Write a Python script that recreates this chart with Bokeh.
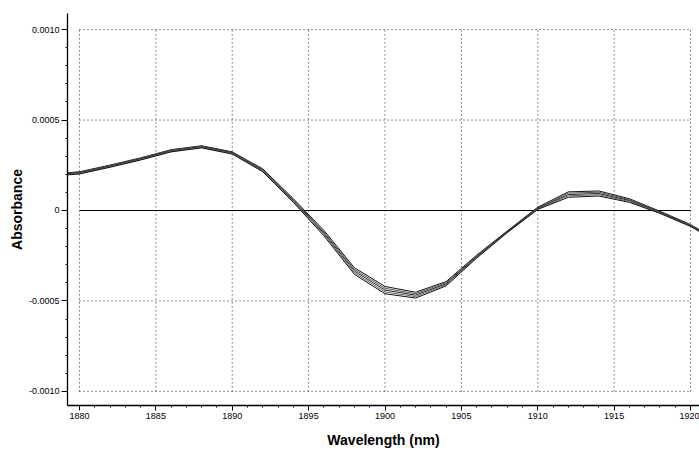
from bokeh.plotting import figure
from bokeh.models import Range1d, FixedTicker
from bokeh.embed import file_html
from bokeh.resources import INLINE

# Data (absorbance spectra, 2 nm steps)
wavelength = [1878, 1880, 1882, 1884, 1886, 1888, 1890, 1892, 1894, 1896, 1898, 1900,
              1902, 1904, 1906, 1908, 1910, 1912, 1914, 1916, 1918, 1920, 1922]
spec1 = [201, 214, 251, 291, 336, 358, 324, 230, 65, -110, -317, -420,
         -452, -393, -247, -113, 18, 103, 108, 65, -4, -78, -175]
spec2 = [198, 211, 248, 288, 333, 355, 321, 226, 60, -118, -326, -430,
         -460, -399, -251, -116, 15, 96, 101, 60, -7, -81, -178]
spec3 = [195, 208, 245, 285, 330, 352, 318, 222, 55, -125, -335, -440,
         -468, -405, -255, -118, 12, 88, 94, 55, -10, -83, -180]
spec4 = [192, 205, 242, 282, 327, 349, 315, 218, 50, -132, -344, -450,
         -476, -411, -259, -121, 9, 81, 87, 50, -13, -86, -182]
spec5 = [189, 202, 239, 279, 324, 346, 312, 214, 45, -140, -353, -460,
         -484, -417, -263, -123, 6, 73, 80, 45, -16, -88, -185]
spectra = [spec1, spec2, spec3, spec4, spec5]
UNIT = 1e-6  # values above are in micro-absorbance units

x_ticks = [1880, 1885, 1890, 1895, 1900, 1905, 1910, 1915, 1920]
y_ticks = [-0.0010, -0.0005, 0.0, 0.0005, 0.0010]
y_tick_labels = ["-0.0010", "-0.0005", "0", "0.0005", "0.0010"]

p = figure(width=699, height=456, output_backend="svg", toolbar_location=None,
           x_range=Range1d(1879.214, 1920.589), y_range=Range1d(-0.001078, 0.001089),
           min_border_left=67, min_border_right=0, min_border_top=13, min_border_bottom=51)
p.outline_line_color = None
p.background_fill_color = "white"
p.xgrid.visible = False
p.ygrid.visible = False

# dotted grid box
x0, x1 = x_ticks[0], x_ticks[-1]
y0, y1 = y_ticks[0], y_ticks[-1]
p.segment(x0=x_ticks, y0=[y0] * len(x_ticks), x1=x_ticks, y1=[y1] * len(x_ticks),
          line_color="#222222", line_width=1, line_dash="1 3")
hy = [v for v in y_ticks if v != 0]
p.segment(x0=[x0] * len(hy), y0=hy, x1=[x1] * len(hy), y1=hy,
          line_color="#222222", line_width=1, line_dash="1 3")
# zero line
p.segment(x0=[x0], y0=[0], x1=[x1], y1=[0], line_color="black", line_width=1.2)

colors = ["#111111", "#555555", "#222222", "#666666", "#111111"]
for s, c in zip(spectra, colors):
    p.line(wavelength, [v * UNIT for v in s], line_color=c, line_width=1.0)

for ax in (p.xaxis[0], p.yaxis[0]):
    ax.axis_line_color = "black"
    ax.axis_line_width = 1.3
    ax.major_tick_line_color = "black"
    ax.minor_tick_line_color = "black"
    ax.major_tick_in = 0
    ax.minor_tick_in = 0
    ax.major_label_text_font = "Liberation Sans"
    ax.major_label_text_font_size = "9px"
    ax.major_label_text_color = "black"
    ax.axis_label_text_font = "Liberation Sans"
    ax.axis_label_text_font_style = "bold"
    ax.axis_label_text_font_size = "14px"
    ax.axis_label_text_color = "black"

p.xaxis.ticker = FixedTicker(ticks=x_ticks, minor_ticks=list(range(1879, 1921)))
p.xaxis.major_tick_out = 5
p.xaxis.minor_tick_out = 2
p.xaxis.major_label_standoff = 2
p.xaxis.axis_label = "Wavelength (nm)"
p.xaxis.axis_label_standoff = 10

p.yaxis.ticker = FixedTicker(ticks=y_ticks,
                             minor_ticks=[-0.001 + 0.0001 * i for i in range(21)])
p.yaxis.major_label_overrides = {v: t for v, t in zip(y_ticks, y_tick_labels)}
p.yaxis.major_tick_out = 6
p.yaxis.minor_tick_out = 2
p.yaxis.major_label_standoff = 2
p.yaxis.axis_label = "Absorbance"
p.yaxis.axis_label_standoff = 1

open("out.html", "w").write(file_html(p, INLINE))
